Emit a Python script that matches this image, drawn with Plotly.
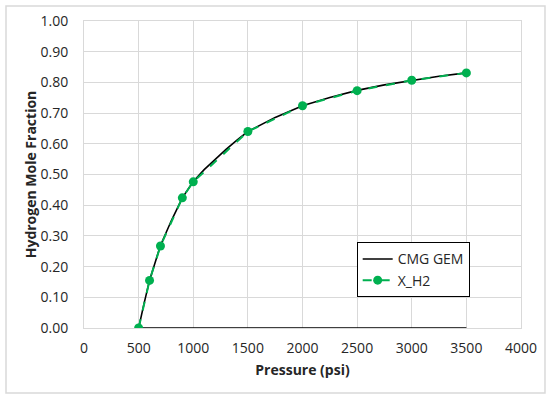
import plotly.graph_objects as go

# CMG GEM simulated curve (includes baseline segment along zero)
cmg_p = [3500, 500, 550, 600, 700, 800, 900, 1000, 1100, 1200, 1300, 1400, 1500,
         1750, 2000, 2250, 2500, 2750, 3000, 3250, 3500]
cmg_x = [0.0, 0.0, 0.080, 0.155, 0.269, 0.350, 0.424, 0.477, 0.516, 0.550, 0.582,
         0.612, 0.640, 0.686, 0.724, 0.751, 0.774, 0.792, 0.807, 0.820, 0.831]

# X_H2 points
xh2_p = [500, 600, 700, 900, 1000, 1500, 2000, 2500, 3000, 3500]
xh2_x = [0.0, 0.155, 0.267, 0.424, 0.476, 0.640, 0.724, 0.773, 0.807, 0.831]

x_ticks = [0, 500, 1000, 1500, 2000, 2500, 3000, 3500, 4000]
y_ticks = [0.0, 0.1, 0.2, 0.3, 0.4, 0.5, 0.6, 0.7, 0.8, 0.9, 1.0]

FONT = "Open Sans, Liberation Sans, sans-serif"
GRID = "#d9d9d9"
TXT = "#262626"

fig = go.Figure()
fig.add_trace(go.Scatter(x=cmg_p, y=cmg_x, mode="lines", name="CMG GEM",
                         line=dict(color="black", width=1.6)))
fig.add_trace(go.Scatter(x=xh2_p, y=xh2_x, mode="lines+markers", name="X_H2",
                         line=dict(color="#00B050", width=2, dash="dash"),
                         marker=dict(color="#00B050", size=9)))

fig.update_layout(
    width=550, height=398,
    margin=dict(l=84, r=29, t=21, b=70, autoexpand=False),
    paper_bgcolor="white", plot_bgcolor="white",
    font=dict(family=FONT, size=14, color=TXT),
    showlegend=True,
    legend=dict(x=0.624, y=0.279, xanchor="left", yanchor="top",
                bgcolor="white", bordercolor="black", borderwidth=1,
                font=dict(family=FONT, size=14, color=TXT),
                tracegroupgap=0),
    xaxis=dict(range=[0, 4000], tickvals=x_ticks,
               ticktext=[str(v) for v in x_ticks],
               showgrid=True, gridcolor=GRID, zeroline=False,
               showline=True, linecolor=GRID, mirror=True,
               ticks="", ticklabelstandoff=7, automargin=False,
               title=dict(text="<b>Pressure (psi)</b>", standoff=9,
                          font=dict(family=FONT, size=14, color=TXT))),
    yaxis=dict(range=[0, 1.0], tickvals=y_ticks,
               ticktext=[f"{v:.2f}" for v in y_ticks],
               showgrid=True, gridcolor=GRID, zeroline=False,
               showline=True, linecolor=GRID, mirror=True,
               ticks="", ticklabelstandoff=12, automargin=False,
               title=dict(text="<b>Hydrogen Mole Fraction</b>", standoff=0,
                          font=dict(family=FONT, size=14, color=TXT))),
    shapes=[dict(type="rect", xref="paper", yref="paper",
                 x0=-0.1785, x1=1.0549, y0=-0.2117, y1=1.0489,
                 line=dict(color=GRID, width=1.5), layer="above")],
)

fig.write_html("out.html",
               config={"displayModeBar": False},
               post_script="document.body.style.margin='0';document.body.style.overflow='hidden';")
